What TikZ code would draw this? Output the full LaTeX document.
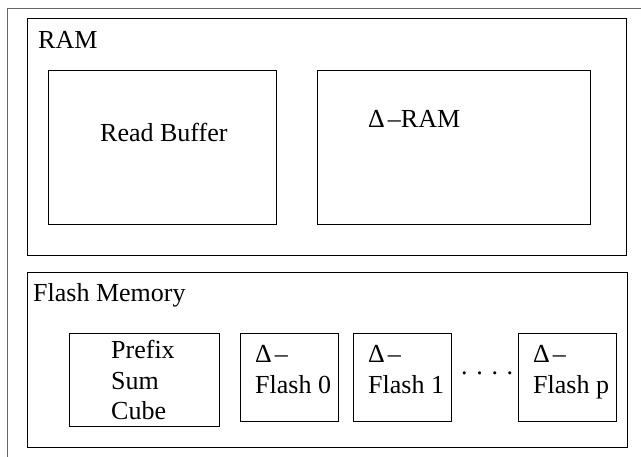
\documentclass[tikz,border=0pt]{standalone}
\usepackage{fontspec}
\setmainfont{Liberation Serif}
\newcommand{\dlt}{Δ\kern3pt–}
\begin{document}
\begin{tikzpicture}[x=1pt,y=-1pt,
  boxline/.style={draw=black,line width=0.9pt},
  boxnode/.style={boxline,inner sep=0pt,anchor=north west},
  lbl/.style={inner sep=0pt,anchor=base west,font=\fontsize{26}{31}\selectfont}]
\useasboundingbox (0,0) rectangle (641,457);
% outer frame (only left and top edges visible)
\draw[draw=black!60,line width=0.9pt] (7,457) -- (7,8) -- (641,8);
% RAM
\node[boxnode,minimum width=599pt,minimum height=237pt] (ram) at (27,18) {};
\node[lbl] (ramlbl) at (38,49) {RAM};
\node[boxnode,minimum width=228pt,minimum height=154pt] (rb) at (48,70) {};
\node[lbl] (rblbl) at (100,142) {Read Buffer};
\node[boxnode,minimum width=273pt,minimum height=154pt] (dram) at (317,70) {};
\node[lbl] (dramlbl) at (368,128) {\dlt RAM};
% Flash memory
\node[boxnode,minimum width=600pt,minimum height=175pt] (flash) at (27,272) {};
\node[lbl] (flashlbl) at (33,302) {Flash Memory};
\node[boxnode,minimum width=150pt,minimum height=93pt] (psc) at (69,333) {};
\node[lbl] (psc1) at (111,359) {Prefix};
\node[lbl] (psc2) at (111,390) {Sum};
\node[lbl] (psc3) at (111,420) {Cube};
\node[boxnode,minimum width=98pt,minimum height=88pt] (f0) at (240,333) {};
\node[lbl] (f0a) at (255,363) {\dlt};
\node[lbl] (f0b) at (255,394) {Flash 0};
\node[boxnode,minimum width=98pt,minimum height=88pt] (f1) at (353,333) {};
\node[lbl] (f1a) at (368,363) {\dlt};
\node[lbl] (f1b) at (368,394) {Flash 1};
\node[boxnode,minimum width=98pt,minimum height=88pt] (fp) at (518,333) {};
\node[lbl] (fpa) at (533,363) {\dlt};
\node[lbl] (fpb) at (533,394) {Flash p};
\node[lbl] (dots) at (461,375) {. . . .};
\end{tikzpicture}
\end{document}
